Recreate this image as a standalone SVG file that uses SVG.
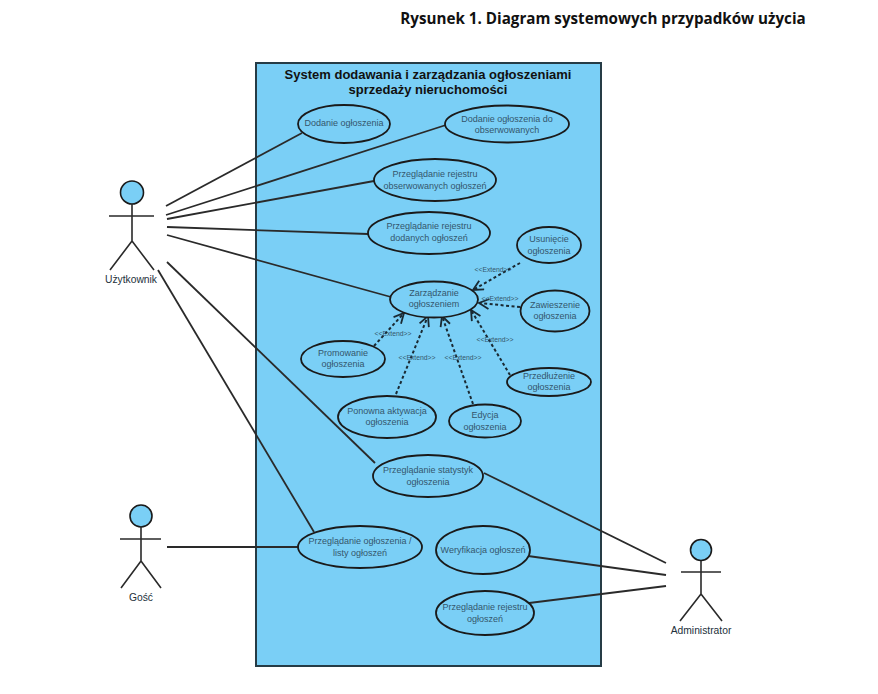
<svg xmlns="http://www.w3.org/2000/svg" width="878" height="694" viewBox="0 0 878 694">
<style>
text{font-family:"Liberation Sans",Arial,sans-serif;text-anchor:middle}
.uc ellipse{fill:#7acff6;stroke:#1a1a1a;stroke-width:1.8}
.uc text{font-size:9px;fill:#34566c}
.ln line{stroke:#2a2a2a;stroke-width:1.8}
.dash line{stroke:#1a2a33;stroke-width:2;stroke-dasharray:3 2.5;marker-end:url(#open)}
.ext{font-size:6.8px;fill:#34566c}
.actor circle{fill:#7acff6;stroke:#1a1a1a;stroke-width:1.6}
.actor path{fill:none;stroke:#2a2a2a;stroke-width:1.6}
.actor text{font-size:10.3px;fill:#22303a}
</style>
<defs>
<marker id="open" viewBox="0 0 12 12" refX="11" refY="6" markerWidth="12" markerHeight="12" markerUnits="userSpaceOnUse" orient="auto">
<path d="M1 1L11 6L1 11" fill="none" stroke="#1a2a33" stroke-width="1.8"/>
</marker>
</defs>
<rect width="878" height="694" fill="#fff"/>
<text x="603" y="24" style="font-family:'Open Sans','Noto Sans',sans-serif;font-weight:700;font-size:15.2px;fill:#111">Rysunek 1. Diagram systemowych przypadków użycia</text>
<g id="system">
<rect x="256" y="63" width="345" height="603" fill="#7acff6" stroke="#263c46" stroke-width="2"/>
<text x="428" y="79" font-size="13" font-weight="700" fill="#111">System dodawania i zarządzania ogłoszeniami</text>
<text x="428" y="94" font-size="13" font-weight="700" fill="#111">sprzedaży nieruchomości</text>
</g>
<g id="connectors">
<g class="ln">
<line x1="166" y1="206" x2="302" y2="133"/>
<line x1="166" y1="215" x2="446" y2="125"/>
<line x1="167" y1="219" x2="374" y2="181"/>
<line x1="167" y1="227" x2="368" y2="234"/>
<line x1="167" y1="235" x2="391" y2="297"/>
<line x1="167" y1="262" x2="375" y2="463"/>
<line x1="158" y1="270" x2="314" y2="532"/>
<line x1="167" y1="547" x2="298" y2="547"/>
<line x1="484" y1="473" x2="666" y2="563"/>
<line x1="528" y1="556" x2="666" y2="575"/>
<line x1="513" y1="605" x2="666" y2="586"/>
</g>
<g class="dash">
<line x1="520" y1="263" x2="473" y2="290"/>
<line x1="520" y1="307" x2="479" y2="303"/>
<line x1="510" y1="375" x2="471" y2="310"/>
<line x1="473" y1="404" x2="442" y2="316"/>
<line x1="396" y1="394" x2="428" y2="316"/>
<line x1="374" y1="346" x2="404" y2="313"/>
</g>
<text class="ext" x="493" y="272">&lt;&lt;Extend&gt;&gt;</text>
<text class="ext" x="500" y="301">&lt;&lt;Extend&gt;&gt;</text>
<text class="ext" x="495" y="342">&lt;&lt;Extend&gt;&gt;</text>
<text class="ext" x="393" y="336">&lt;&lt;Extend&gt;&gt;</text>
<text class="ext" x="417" y="360">&lt;&lt;Extend&gt;&gt;</text>
<text class="ext" x="463" y="360">&lt;&lt;Extend&gt;&gt;</text>
</g>
<g id="uc1" class="uc"><ellipse cx="344" cy="124" rx="46" ry="19"/><text x="344" y="126">Dodanie ogłoszenia</text></g>
<g id="uc2" class="uc"><ellipse cx="507" cy="124" rx="62" ry="18.5"/><text x="507" y="121.500">Dodanie ogłoszenia do</text><text x="507" y="132.500">obserwowanych</text></g>
<g id="uc3" class="uc"><ellipse cx="435" cy="180" rx="61" ry="21"/><text x="435" y="177">Przeglądanie rejestru</text><text x="435" y="189">obserwowanych ogłoszeń</text></g>
<g id="uc4" class="uc"><ellipse cx="429" cy="233" rx="61" ry="21"/><text x="429" y="229">Przeglądanie rejestru</text><text x="429" y="241">dodanych ogłoszeń</text></g>
<g id="uc5" class="uc"><ellipse cx="549" cy="245" rx="32" ry="18"/><text x="549" y="242">Usunięcie</text><text x="549" y="254">ogłoszenia</text></g>
<g id="uc6" class="uc"><ellipse cx="434" cy="299.500" rx="44" ry="18"/><text x="434" y="296">Zarządzanie</text><text x="434" y="307">ogłoszeniem</text></g>
<g id="uc7" class="uc"><ellipse cx="555" cy="311" rx="34.500" ry="20.500"/><text x="555" y="308">Zawieszenie</text><text x="555" y="319">ogłoszenia</text></g>
<g id="uc8" class="uc"><ellipse cx="549" cy="382" rx="42" ry="14"/><text x="549" y="379">Przedłużenie</text><text x="549" y="390">ogłoszenia</text></g>
<g id="uc9" class="uc"><ellipse cx="485" cy="421" rx="36" ry="16.500"/><text x="485" y="418">Edycja</text><text x="485" y="430">ogłoszenia</text></g>
<g id="uc10" class="uc"><ellipse cx="387" cy="417" rx="49" ry="21"/><text x="387" y="414">Ponowna aktywacja</text><text x="387" y="425">ogłoszenia</text></g>
<g id="uc11" class="uc"><ellipse cx="343" cy="359" rx="42" ry="18"/><text x="343" y="356">Promowanie</text><text x="343" y="367">ogłoszenia</text></g>
<g id="uc12" class="uc"><ellipse cx="428" cy="476" rx="55" ry="21"/><text x="428" y="473">Przeglądanie statystyk</text><text x="428" y="485">ogłoszenia</text></g>
<g id="uc13" class="uc"><ellipse cx="360" cy="547" rx="62" ry="21"/><text x="360" y="544">Przeglądanie ogłoszenia /</text><text x="360" y="556">listy ogłoszeń</text></g>
<g id="uc14" class="uc"><ellipse cx="483" cy="550" rx="47" ry="24"/><text x="483" y="553">Weryfikacja ogłoszeń</text></g>
<g id="uc15" class="uc"><ellipse cx="485" cy="613" rx="49" ry="22"/><text x="485" y="610">Przeglądanie rejestru</text><text x="485" y="622">ogłoszeń</text></g>
<g id="actor-uzytkownik" class="actor"><circle cx="132" cy="192.500" r="11.500"/><path d="M132 204V241M109 216H154M132 241L110 270M132 241L154 270"/><text x="131" y="283">Użytkownik</text></g>
<g id="actor-gosc" class="actor"><circle cx="141" cy="516" r="11"/><path d="M141 527V561M120 539H161M141 561L121 588M141 561L161 588"/><text x="141" y="601">Gość</text></g>
<g id="actor-administrator" class="actor"><circle cx="701" cy="550" r="10.500"/><path d="M701 561V594M681 572H721M701 594L680 621M701 594L722 621"/><text x="701" y="634">Administrator</text></g>
</svg>
